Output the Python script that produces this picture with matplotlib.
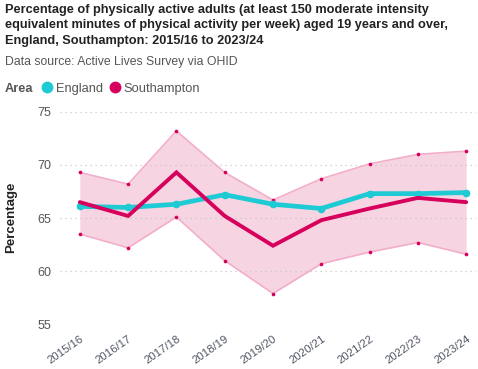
import matplotlib.pyplot as plt
from matplotlib.lines import Line2D

# Data
years = ["2015/16", "2016/17", "2017/18", "2018/19", "2019/20",
         "2020/21", "2021/22", "2022/23", "2023/24"]
england = [66.1, 66.0, 66.3, 67.2, 66.3, 65.9, 67.3, 67.3, 67.4]
southampton = [66.5, 65.2, 69.3, 65.2, 62.4, 64.8, 65.9, 66.9, 66.5]
soton_upper = [69.3, 68.2, 73.2, 69.3, 66.7, 68.7, 70.1, 71.0, 71.3]
soton_lower = [63.5, 62.2, 65.1, 61.0, 57.9, 60.7, 61.8, 62.7, 61.6]
y_ticks = [55, 60, 65, 70, 75]

cyan = "#1ECAD3"
magenta = "#D6005C"
grey = "#555555"

plt.rcParams['font.family'] = ['Liberation Sans', 'DejaVu Sans']

fig = plt.figure(figsize=(4.78, 3.69), dpi=100)
ax = fig.add_axes([0.1255, 0.121, 0.87, 0.576])
x = range(len(years))

# confidence band for Southampton
ax.fill_between(x, soton_lower, soton_upper, color="#F7D4E2", linewidth=0, zorder=1)
for bound in (soton_upper, soton_lower):
    ax.plot(x, bound, color="#F2AECB", linewidth=1.2, zorder=2)
    ax.scatter(x, bound, color=magenta, s=7, zorder=3, linewidths=0)

# lines
ax.plot(x, england, color=cyan, linewidth=3.4, marker='o', markersize=4.5,
        solid_capstyle='round', zorder=4)
ax.plot(x, southampton, color=magenta, linewidth=2.8, solid_capstyle='round',
        solid_joinstyle='miter', zorder=5)

ax.set_ylim(55, 75)
ax.set_xlim(-0.41, 8.2)
ax.set_yticks(y_ticks)
ax.set_yticklabels([str(t) for t in y_ticks], fontsize=9, color=grey)
ax.set_xticks(list(x))
ax.set_xticklabels(years, rotation=35, ha='right', rotation_mode='anchor',
                   fontsize=8.2, color="#4F5663")
ax.tick_params(length=0, pad=6)
ax.tick_params(axis='x', pad=7)
ax.grid(axis='y', linestyle=(0, (1, 3)), color="#C8C8C8", linewidth=0.9)
for s in ax.spines.values():
    s.set_visible(False)

fig.text(0.024, 0.41, "Percentage", rotation=90, fontsize=9.5, weight='bold',
         color="#222222", ha='center', va='center')

# title and subtitle
fig.text(0.01, 0.99,
         "Percentage of physically active adults (at least 150 moderate intensity\n"
         "equivalent minutes of physical activity per week) aged 19 years and over,\n"
         "England, Southampton: 2015/16 to 2023/24",
         fontsize=9.2, weight='bold', color="#222222", ha='left', va='top',
         linespacing=1.42)
fig.text(0.01, 0.833, "Data source: Active Lives Survey via OHID",
         fontsize=8.8, color=grey, ha='left', va='center')

# legend row
fig.text(0.01, 0.76, "Area", fontsize=9.2, weight='bold', color=grey,
         ha='left', va='center')
handles = [Line2D([], [], marker='o', linestyle='', color=cyan, markersize=7.5),
           Line2D([], [], marker='o', linestyle='', color=magenta, markersize=7.5)]
fig.legend(handles, ["England", "Southampton"], loc='center left',
           bbox_to_anchor=(0.084, 0.76), ncol=2, frameon=False, fontsize=9.3,
           handletextpad=0.1, columnspacing=0.4, handlelength=1.1,
           labelcolor=grey, borderpad=0, borderaxespad=0)

fig.savefig("out.png", dpi=100)
